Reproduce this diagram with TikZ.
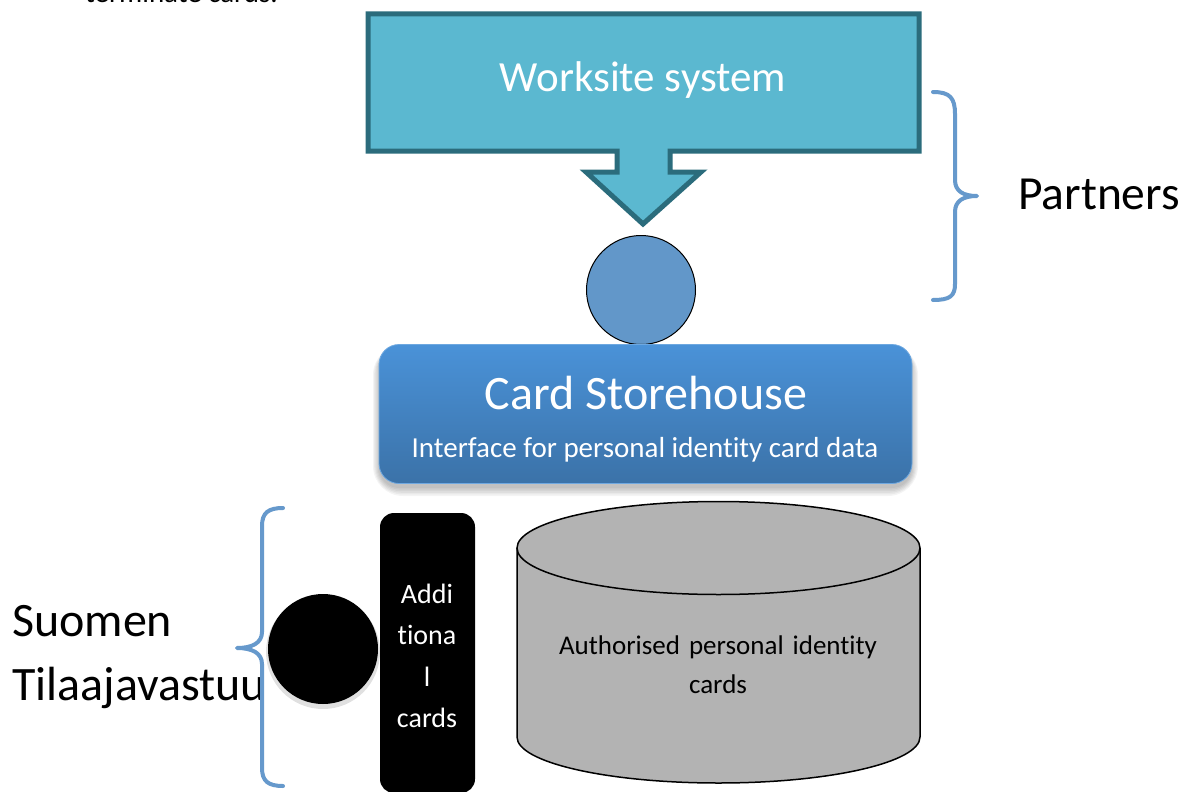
\documentclass[tikz,border=0pt]{standalone}
\usepackage{fontspec}
\setmainfont{Carlito}[Ligatures={NoCommon}]
\definecolor{tealfill}{HTML}{5BB8D0}
\definecolor{tealline}{HTML}{2B6C7C}
\definecolor{nodeblue}{HTML}{6297C9}
\definecolor{storetop}{HTML}{4A92D8}
\definecolor{storebot}{HTML}{3B72A8}
\definecolor{bracecol}{HTML}{6699CC}
\definecolor{cylgray}{HTML}{B3B3B3}
\tikzset{
  fs/.style={font=\fontsize{#1}{#1}\selectfont},
  bracepath/.style={draw=bracecol, line width=4pt, line cap=round, line join=round},
  txt/.style={inner sep=0pt, align=center},
}
\begin{document}
\begin{tikzpicture}[x=1pt, y=-1pt]
\useasboundingbox (0,0) rectangle (1183,792);
\clip (0,0) rectangle (1183,792);
\fill[white] (0,0) rectangle (1183,792);

% clipped text at the top
\node[anchor=base west, inner sep=0pt, fs=29] (topline) at (85,3) {terminate cards.};

% Partners brace
\path[bracepath] (933,92) .. controls (950,92) and (955,98) .. (955,114) -- (955,180)
  .. controls (955,191) and (963,196) .. (977,196)
  .. controls (963,196) and (955,201) .. (955,212) -- (955,284)
  .. controls (955,296) and (950,300) .. (933,300);
\node[anchor=base west, inner sep=0pt, fs=47.5] (partners) at (1018,209) {Partners};

% Worksite callout
\path[fill=tealfill, draw=tealline, line width=5pt, line join=miter]
  (368,14) -- (919,14) -- (919,151) -- (670,151) -- (670,172) -- (701,172)
  -- (643,224) -- (586,172) -- (617,172) -- (617,151) -- (368,151) -- cycle;
\node[txt, text=white, fs=43] (worksite) at (643,80) {Worksite system};

% blue connector circle
\node[circle, draw=black, line width=1pt, fill=nodeblue, minimum size=109pt, inner sep=0pt] (bluecirc) at (641,290) {};

% soft shadow of the Card Storehouse
\foreach \s in {0,2,4,6,8,10}{
  \fill[black, opacity=0.045, rounded corners=20pt+\s pt]
    (379-\s*0.6,349-\s*0.4) rectangle (912+\s*0.6,488+\s*0.8);
}
% Card Storehouse
\node[rectangle, rounded corners=20pt, minimum width=533pt, minimum height=139pt,
  top color=storetop, bottom color=storebot, draw=storetop!80!white, line width=0.8pt] (store) at (645.5,414) {};
\node[txt, text=white, fs=48] (storetitle) at (646,393) {Card Storehouse};
\node[txt, text=white, fs=29] (storesub) at (645,450) {Interface for personal identity card data};

% Cylinder
\fill[cylgray] (517,548) rectangle (920,737);
\fill[cylgray] (718.5,737) ellipse [x radius=201.5pt, y radius=46pt];
\draw[black, line width=1.5pt] (517,548) -- (517,737) arc[start angle=180, end angle=360, x radius=201.5pt, y radius=46pt] -- (920,548);
\draw[black, line width=1.5pt, fill=cylgray] (718.5,548) ellipse [x radius=201.5pt, y radius=46.5pt];
\node[txt, text width=380pt, font=\fontsize{27}{39}\selectfont] (cyltext) at (718,665) {Authorised personal identity\\cards};
\coordinate (cyl) at (718.5,640);

% Left label
\node[anchor=base west, inner sep=0pt, fs=48] (suomen) at (12,636) {Suomen};
\node[anchor=base west, inner sep=0pt, fs=48] (tilaaja) at (12,700) {Tilaajavastuu};

% Left brace
\path[bracepath] (283,508) .. controls (268,508) and (262,513) .. (262,526) -- (262,632)
  .. controls (262,643) and (252,648) .. (237,648)
  .. controls (252,648) and (262,653) .. (262,664) -- (262,768)
  .. controls (262,781) and (268,786) .. (283,786);

% Additional cards box
\node[rectangle, rounded corners=14pt, fill=black, minimum width=95pt, minimum height=280pt, inner sep=0pt] (addbox) at (427.5,653) {};
\node[txt, text=white, font=\fontsize{28}{41.5}\selectfont] (addtext) at (427,656) {Addi\\tiona\\l\\cards};

% black circle with faint shadow
\fill[black, opacity=0.12] (323,652) circle (57pt);
\node[circle, fill=black, minimum size=110pt, inner sep=0pt] (blackcirc) at (323,649) {};
\end{tikzpicture}
\end{document}
